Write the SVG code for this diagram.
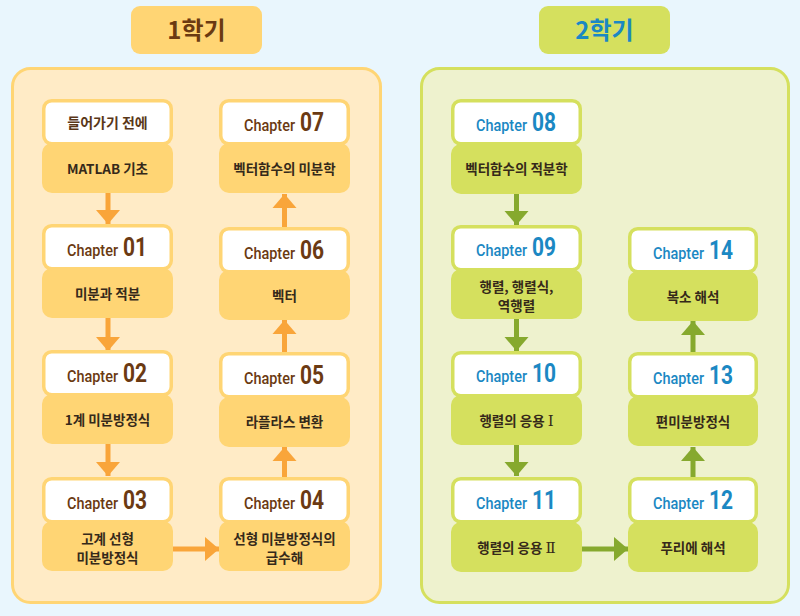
<svg xmlns="http://www.w3.org/2000/svg" width="800" height="616" viewBox="0 0 800 616">
<defs>
<style>
.bgO{fill:#FFEBC6;stroke:#FFD574;stroke-width:3}
.bgG{fill:#EEF2CE;stroke:#D5E05E;stroke-width:3}
.wO{fill:#fff;stroke:#FFD574;stroke-width:3.5}
.wG{fill:#fff;stroke:#D5E05E;stroke-width:3.5}
.yO{fill:#FFD574}
.yG{fill:#D5E05E}
.ch{font-family:Roboto,"Liberation Sans",sans-serif;font-weight:500;font-size:17px}
.num{font-family:Roboto,"Liberation Sans",sans-serif;font-weight:700;font-size:25px}
.cO{fill:#6B3A12}
.cG{fill:#1B88C3}
.t{font-family:"Noto Sans CJK KR","Noto Sans",sans-serif;font-weight:700;font-size:13.5px;fill:#35291a;text-anchor:middle}
.rn{font-family:"Liberation Serif","DejaVu Serif",serif;font-weight:400;font-size:15px}
.ttl{font-family:"Noto Sans CJK KR","Noto Sans",sans-serif;font-weight:700;font-size:24px;text-anchor:middle}
.aO{stroke:#F9A53A;stroke-width:5;fill:none}
.aG{stroke:#86A92E;stroke-width:5;fill:none}
</style>
<marker id="hO" markerUnits="userSpaceOnUse" viewBox="0 0 15 26" markerWidth="15" markerHeight="26" refX="14" refY="13" orient="auto"><path d="M0,1 L14,13 L0,25 z" fill="#F9A53A"/></marker>
<marker id="hG" markerUnits="userSpaceOnUse" viewBox="0 0 15 26" markerWidth="15" markerHeight="26" refX="14" refY="13" orient="auto"><path d="M0,1 L14,13 L0,25 z" fill="#86A92E"/></marker>
</defs>
<rect width="800" height="616" fill="#E9F6FD"/>

<g id="title1"><rect x="131" y="6" width="131" height="48" rx="9" fill="#FFD574"/><text class="ttl cO" x="196.5" y="39">1학기</text></g>
<g id="title2"><rect x="539" y="6" width="131" height="48" rx="9" fill="#D5E05E"/><text class="ttl cG" x="604.5" y="39">2학기</text></g>

<g id="panel1"><rect class="bgO" x="12.5" y="68.5" width="368" height="534" rx="18"/></g>
<g id="panel2"><rect class="bgG" x="421.5" y="68.5" width="367" height="534" rx="18"/></g>

<g id="connectors">
<line class="aO" x1="108" y1="193" x2="108" y2="224" marker-end="url(#hO)"/>
<line class="aO" x1="108" y1="318" x2="108" y2="351" marker-end="url(#hO)"/>
<line class="aO" x1="108" y1="444" x2="108" y2="476" marker-end="url(#hO)"/>
<line class="aO" x1="172" y1="549" x2="219" y2="549" marker-end="url(#hO)"/>
<line class="aO" x1="284.5" y1="477" x2="284.5" y2="447" marker-end="url(#hO)"/>
<line class="aO" x1="284.5" y1="352" x2="284.5" y2="320" marker-end="url(#hO)"/>
<line class="aO" x1="284.5" y1="227" x2="284.5" y2="194" marker-end="url(#hO)"/>
<line class="aG" x1="516.5" y1="194" x2="516.5" y2="225" marker-end="url(#hG)"/>
<line class="aG" x1="516.5" y1="319" x2="516.5" y2="351" marker-end="url(#hG)"/>
<line class="aG" x1="516.5" y1="445" x2="516.5" y2="476" marker-end="url(#hG)"/>
<line class="aG" x1="581" y1="549" x2="628" y2="549" marker-end="url(#hG)"/>
<line class="aG" x1="693" y1="477" x2="693" y2="447" marker-end="url(#hG)"/>
<line class="aG" x1="693" y1="352" x2="693" y2="321" marker-end="url(#hG)"/>
</g>

<g id="n00"><rect class="yO" x="42" y="143" width="131" height="50" rx="10"/><rect class="wO" x="43.75" y="100.75" width="127.5" height="43" rx="8"/>
<text class="t" x="107.5" y="128" style="font-size:14px;fill:#5a3718">들어가기 전에</text><text class="t" x="107.5" y="174">MATLAB 기초</text></g>

<g id="n01"><rect class="yO" x="42" y="268" width="131" height="50" rx="10"/><rect class="wO" x="43.75" y="225.75" width="127.5" height="43" rx="8"/>
<text class="cO" y="256"><tspan class="ch" x="67" textLength="51" lengthAdjust="spacingAndGlyphs">Chapter</tspan><tspan class="num" x="123" textLength="24" lengthAdjust="spacingAndGlyphs">01</tspan></text><text class="t" x="107.5" y="299">미분과 적분</text></g>

<g id="n02"><rect class="yO" x="42" y="394" width="131" height="50" rx="10"/><rect class="wO" x="43.75" y="351.75" width="127.5" height="43" rx="8"/>
<text class="cO" y="382"><tspan class="ch" x="67" textLength="51" lengthAdjust="spacingAndGlyphs">Chapter</tspan><tspan class="num" x="123" textLength="24" lengthAdjust="spacingAndGlyphs">02</tspan></text><text class="t" x="107.5" y="425">1계 미분방정식</text></g>

<g id="n03"><rect class="yO" x="42" y="521" width="131" height="50" rx="10"/><rect class="wO" x="43.75" y="478.75" width="127.5" height="43" rx="8"/>
<text class="cO" y="509"><tspan class="ch" x="67" textLength="51" lengthAdjust="spacingAndGlyphs">Chapter</tspan><tspan class="num" x="123" textLength="24" lengthAdjust="spacingAndGlyphs">03</tspan></text><text class="t" x="107.5" y="544">고계 선형</text><text class="t" x="107.5" y="563">미분방정식</text></g>

<g id="n04"><rect class="yO" x="219" y="521" width="131" height="50" rx="10"/><rect class="wO" x="220.75" y="478.75" width="127.5" height="43" rx="8"/>
<text class="cO" y="509"><tspan class="ch" x="244" textLength="51" lengthAdjust="spacingAndGlyphs">Chapter</tspan><tspan class="num" x="300" textLength="24" lengthAdjust="spacingAndGlyphs">04</tspan></text><text class="t" x="284.5" y="544">선형 미분방정식의</text><text class="t" x="284.5" y="563">급수해</text></g>

<g id="n05"><rect class="yO" x="219" y="397" width="131" height="50" rx="10"/><rect class="wO" x="220.75" y="353.75" width="127.5" height="43" rx="8"/>
<text class="cO" y="384"><tspan class="ch" x="244" textLength="51" lengthAdjust="spacingAndGlyphs">Chapter</tspan><tspan class="num" x="300" textLength="24" lengthAdjust="spacingAndGlyphs">05</tspan></text><text class="t" x="284.5" y="427">라플라스 변환</text></g>

<g id="n06"><rect class="yO" x="219" y="270" width="131" height="50" rx="10"/><rect class="wO" x="220.75" y="228.75" width="127.5" height="43" rx="8"/>
<text class="cO" y="259"><tspan class="ch" x="244" textLength="51" lengthAdjust="spacingAndGlyphs">Chapter</tspan><tspan class="num" x="300" textLength="24" lengthAdjust="spacingAndGlyphs">06</tspan></text><text class="t" x="284.5" y="301">벡터</text></g>

<g id="n07"><rect class="yO" x="219" y="143" width="131" height="50" rx="10"/><rect class="wO" x="220.75" y="100.75" width="127.5" height="43" rx="8"/>
<text class="cO" y="131"><tspan class="ch" x="244" textLength="51" lengthAdjust="spacingAndGlyphs">Chapter</tspan><tspan class="num" x="300" textLength="24" lengthAdjust="spacingAndGlyphs">07</tspan></text><text class="t" x="284.5" y="174">벡터함수의 미분학</text></g>

<g id="n08"><rect class="yG" x="451" y="144" width="131" height="50" rx="10"/><rect class="wG" x="452.75" y="100.75" width="127.5" height="43" rx="8"/>
<text class="cG" y="131"><tspan class="ch" x="476" textLength="51" lengthAdjust="spacingAndGlyphs">Chapter</tspan><tspan class="num" x="532" textLength="24" lengthAdjust="spacingAndGlyphs">08</tspan></text><text class="t" x="516.5" y="174">벡터함수의 적분학</text></g>

<g id="n09"><rect class="yG" x="451" y="269" width="131" height="50" rx="10"/><rect class="wG" x="452.75" y="226.75" width="127.5" height="43" rx="8"/>
<text class="cG" y="256"><tspan class="ch" x="476" textLength="51" lengthAdjust="spacingAndGlyphs">Chapter</tspan><tspan class="num" x="532" textLength="24" lengthAdjust="spacingAndGlyphs">09</tspan></text><text class="t" x="516.5" y="292">행렬, 행렬식,</text><text class="t" x="516.5" y="311">역행렬</text></g>

<g id="n10"><rect class="yG" x="451" y="395" width="131" height="50" rx="10"/><rect class="wG" x="452.75" y="352.75" width="127.5" height="43" rx="8"/>
<text class="cG" y="382"><tspan class="ch" x="476" textLength="51" lengthAdjust="spacingAndGlyphs">Chapter</tspan><tspan class="num" x="532" textLength="24" lengthAdjust="spacingAndGlyphs">10</tspan></text><text class="t" x="516.5" y="426">행렬의 응용 <tspan class="rn">Ⅰ</tspan></text></g>

<g id="n11"><rect class="yG" x="451" y="522" width="131" height="50" rx="10"/><rect class="wG" x="452.75" y="478.75" width="127.5" height="43" rx="8"/>
<text class="cG" y="509"><tspan class="ch" x="476" textLength="51" lengthAdjust="spacingAndGlyphs">Chapter</tspan><tspan class="num" x="532" textLength="24" lengthAdjust="spacingAndGlyphs">11</tspan></text><text class="t" x="516.5" y="553">행렬의 응용 <tspan class="rn">Ⅱ</tspan></text></g>

<g id="n12"><rect class="yG" x="628" y="522" width="130" height="50" rx="10"/><rect class="wG" x="629.75" y="478.75" width="126.5" height="43" rx="8"/>
<text class="cG" y="509"><tspan class="ch" x="653" textLength="51" lengthAdjust="spacingAndGlyphs">Chapter</tspan><tspan class="num" x="709" textLength="24" lengthAdjust="spacingAndGlyphs">12</tspan></text><text class="t" x="693" y="553">푸리에 해석</text></g>

<g id="n13"><rect class="yG" x="628" y="396" width="130" height="50" rx="10"/><rect class="wG" x="629.75" y="353.75" width="126.5" height="43" rx="8"/>
<text class="cG" y="384"><tspan class="ch" x="653" textLength="51" lengthAdjust="spacingAndGlyphs">Chapter</tspan><tspan class="num" x="709" textLength="24" lengthAdjust="spacingAndGlyphs">13</tspan></text><text class="t" x="693" y="427">편미분방정식</text></g>

<g id="n14"><rect class="yG" x="628" y="271" width="130" height="50" rx="10"/><rect class="wG" x="629.75" y="228.75" width="126.5" height="43" rx="8"/>
<text class="cG" y="259"><tspan class="ch" x="653" textLength="51" lengthAdjust="spacingAndGlyphs">Chapter</tspan><tspan class="num" x="709" textLength="24" lengthAdjust="spacingAndGlyphs">14</tspan></text><text class="t" x="693" y="302">복소 해석</text></g>
</svg>
